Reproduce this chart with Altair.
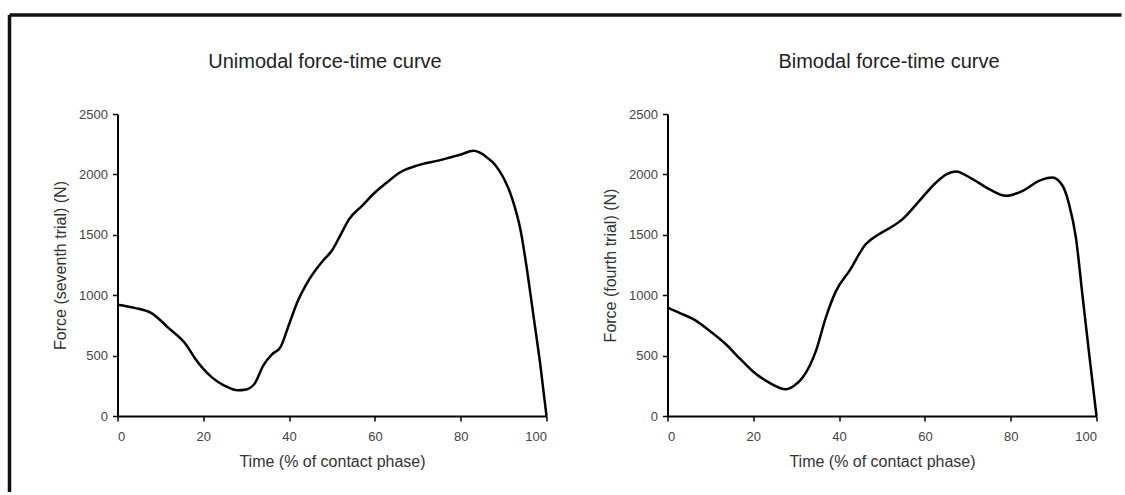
import altair as alt
import pandas as pd

# Unimodal (seventh trial)
uni_t = [0, 4, 8, 12, 16, 18, 20, 22, 25, 28, 30, 32, 34, 36, 38, 40, 42, 44, 46, 48,
         50, 52, 54, 57, 60, 63, 66, 70, 75, 80, 83, 86, 88, 90, 92, 94, 95.5, 97, 98.5, 100]
uni_f = [921, 895, 850, 725, 590, 480, 390, 320, 250, 213, 220, 270, 420, 510, 570, 760, 950, 1090, 1200, 1290,
         1370, 1500, 1630, 1740, 1850, 1940, 2020, 2075, 2116, 2165, 2195, 2145, 2080, 1970, 1800, 1530, 1200, 820, 440, 0]

# Bimodal (fourth trial)
bi_t = [0, 3, 6.6, 10, 13.6, 17, 19.8, 23.7, 27.6, 29.5, 31.5, 34.6, 36.9, 39.3, 42.4, 46.2, 49.3, 52, 54.8,
        58.7, 62.6, 65, 67.2, 71.1, 75, 78.9, 82.8, 86.6, 89.7, 92.1, 93.6, 95.2, 96.7, 98.3, 100]
bi_f = [897, 850, 790, 700, 594, 470, 373, 276, 221, 250, 318, 539, 815, 1036, 1201, 1422, 1505, 1560, 1630,
        1781, 1933, 2000, 2024, 1961, 1878, 1823, 1864, 1947, 1975, 1906, 1754, 1477, 1008, 511, 0]

x_ticks = [0, 20, 40, 60, 80, 100]
y_ticks = [0, 500, 1000, 1500, 2000, 2500]

titles = ["Unimodal force-time curve", "Bimodal force-time curve"]
y_titles = ["Force (seventh trial) (N)", "Force (fourth trial) (N)"]
x_title = "Time (% of contact phase)"

FONT = "Liberation Sans"
W, H = 429, 302


def panel(ts, fs, title, ytitle, dx, border=False):
    df = pd.DataFrame({"t": ts, "f": fs})
    one = pd.DataFrame({"label": [title]})
    line = alt.Chart(df).mark_line(
        color="black", strokeWidth=2.5, interpolate="monotone"
    ).encode(
        x=alt.X("t:Q", scale=alt.Scale(domain=[0, 100], nice=False),
                axis=alt.Axis(values=x_ticks, format="d", title=x_title,
                              labelPadding=9, titlePadding=10)),
        y=alt.Y("f:Q", scale=alt.Scale(domain=[0, 2500], nice=False),
                axis=alt.Axis(values=y_ticks, format="d", title=ytitle,
                              labelPadding=5, titlePadding=10)),
    )
    ttl = alt.Chart(one).mark_text(
        font=FONT, fontSize=20, color="#222", align="center", baseline="alphabetic"
    ).encode(text="label:N", x=alt.value(W / 2 + dx), y=alt.value(-46))
    layers = [line, ttl]
    if border:
        vrule = alt.Chart(one).mark_rule(color="#111", strokeWidth=3.5).encode(
            x=alt.value(-108), y=alt.value(-99), y2=alt.value(378))
        hrule = alt.Chart(one).mark_rule(color="#111", strokeWidth=3.5).encode(
            x=alt.value(-108), x2=alt.value(1004), y=alt.value(-99))
        layers += [vrule, hrule]
    return alt.layer(*layers).properties(width=W, height=H)


left = panel(uni_t, uni_f, titles[0], y_titles[0], -7, border=True)
right = panel(bi_t, bi_f, titles[1], y_titles[1], 7)

chart = alt.hconcat(left, right, spacing=121, bounds="flush").properties(
    padding={"left": 7.5, "top": 13, "right": 0, "bottom": 0},
    background="white",
).configure_view(stroke=None).configure_axis(
    grid=False,
    domainColor="black", domainWidth=2,
    tickColor="black", tickWidth=1.5, tickSize=5,
    labelFont=FONT, labelFontSize=13, labelColor="#444",
    titleFont=FONT, titleFontSize=16, titleFontWeight="normal", titleColor="#333",
)

chart.save("out.html", embed_options={"renderer": "svg", "actions": False})
